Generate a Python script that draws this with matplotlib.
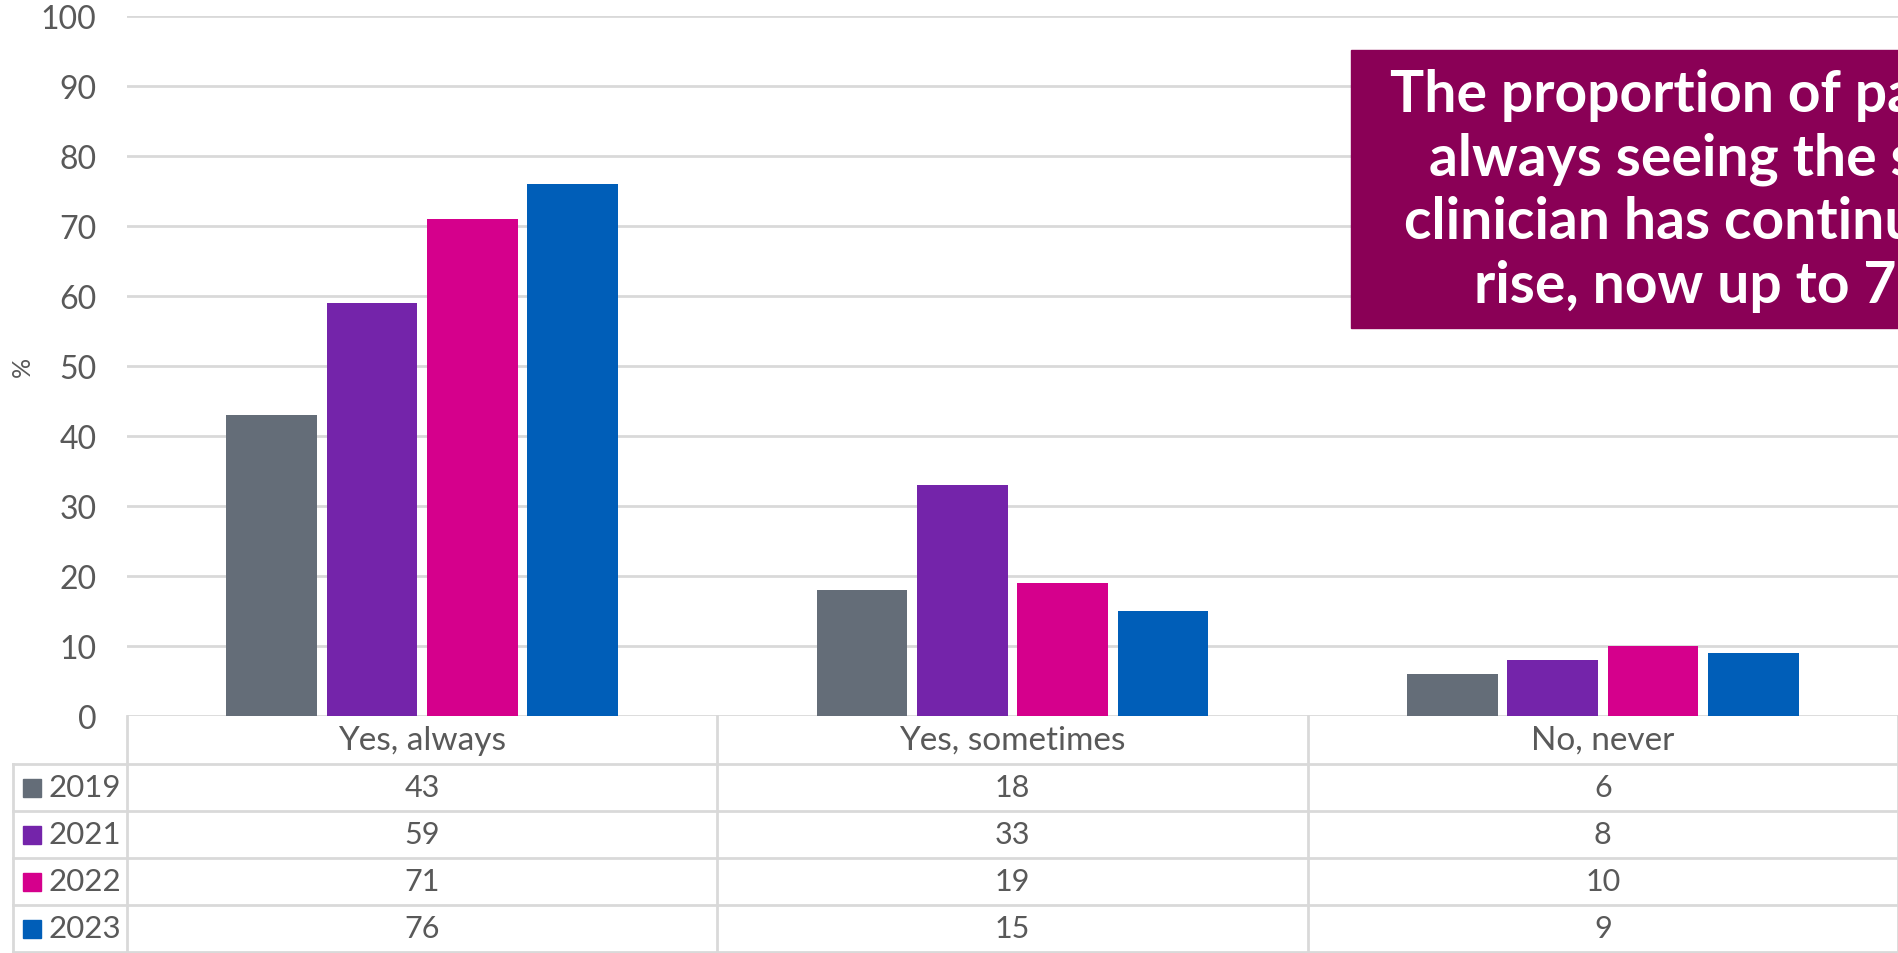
import matplotlib.pyplot as plt
import matplotlib.transforms as mtransforms
from matplotlib.patches import Rectangle
from matplotlib.lines import Line2D

# Continuity of care: share of patients seeing the same clinician
categories = ["Yes, always", "Yes, sometimes", "No, never"]
years = ["2019", "2021", "2022", "2023"]
v2019 = [43, 18, 6]
v2021 = [59, 33, 8]
v2022 = [71, 19, 10]
v2023 = [76, 15, 9]
series = [v2019, v2021, v2022, v2023]
colours = ["#646d78", "#7424aa", "#d5008c", "#005eb8"]
y_ticks = list(range(0, 101, 10))

note = ("The proportion of patients\nalways seeing the same\n"
        "clinician has continued to\nrise, now up to 76%")

plt.rcParams['font.family'] = ['Lato', 'DejaVu Sans']
text_col = "#595959"
line_col = "#d9d9d9"

W, H = 1898, 954
fig = plt.figure(figsize=(W / 100, H / 100), dpi=100)


def fx(px):
    return px / W


def fy(py):
    return 1 - py / H


ax = fig.add_axes([fx(127), fy(717), 1 - fx(127), fy(17) - fy(717)])

# grouped bars
bar_w = 0.154
step = 0.170
for i, vals in enumerate(series):
    xs = [c + (i - 1.5) * step for c in range(len(categories))]
    ax.bar(xs, vals, width=bar_w, color=colours[i], zorder=3)

ax.set_xlim(-0.5, len(categories) - 0.5)
ax.set_ylim(0, 100)
ax.set_yticks(y_ticks)
ax.set_xticks([])
ax.yaxis.grid(True, color=line_col, linewidth=2)
ax.set_axisbelow(True)
for s in ax.spines.values():
    s.set_visible(False)
ax.tick_params(axis='y', length=0, pad=22, labelsize=23, labelcolor=text_col)

fig.text(fx(22), fy(367), "%", rotation=90, ha='center', va='center',
         fontsize=18, color=text_col)

# data table under the axis
trans = mtransforms.blended_transform_factory(ax.transData, fig.transFigure)
row_edges = [717, 765, 812, 859, 906, 953]
lw = 2

for b in [-0.5, 0.5, 1.5, 2.5]:
    ax.add_line(Line2D([b, b], [fy(717), fy(953)], transform=trans,
                       color=line_col, lw=lw, clip_on=False))
for r in row_edges[1:]:
    fig.add_artist(Line2D([fx(13), 1], [fy(r), fy(r)], color=line_col, lw=lw))
fig.add_artist(Line2D([fx(13), fx(13)], [fy(765), fy(953)], color=line_col, lw=lw))

for c, name in enumerate(categories):
    ax.text(c, fy((row_edges[0] + row_edges[1]) / 2), name, transform=trans,
            ha='center', va='center', fontsize=24, color=text_col, clip_on=False)

for i, vals in enumerate(series):
    yc = (row_edges[i + 1] + row_edges[i + 2]) / 2
    for c, v in enumerate(vals):
        ax.text(c, fy(yc), str(v), transform=trans, ha='center', va='center',
                fontsize=22, color=text_col, clip_on=False)
    fig.add_artist(Rectangle((fx(23), fy(yc + 9)), fx(18), 18 / H,
                             transform=fig.transFigure, color=colours[i]))
    fig.text(fx(48), fy(yc), years[i], ha='left', va='center',
             fontsize=22.5, color=text_col)

# callout box
fig.add_artist(Rectangle((fx(1351), fy(329)), 1, (329 - 51) / H,
                         transform=fig.transFigure, color="#8a0056", zorder=5))
fig.text(fx(1390), fy(191), note, ha='left', va='center', multialignment='center',
         fontsize=41, fontweight='bold', color='white', linespacing=1.24, zorder=6)

fig.savefig("out.png", dpi=100)
